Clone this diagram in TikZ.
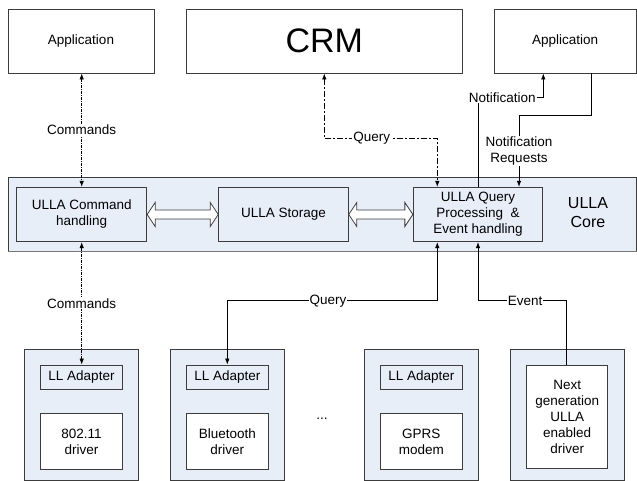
\documentclass[tikz,border=0pt]{standalone}
\usepackage{fontspec}
\setmainfont{Liberation Sans}
\usetikzlibrary{arrows.meta,calc}
\definecolor{pale}{RGB}{232,238,248}
\definecolor{edge}{RGB}{60,60,60}
\begin{document}
\begin{tikzpicture}[x=1pt,y=-1pt,
  txt/.style={font=\fontsize{13.5}{16}\selectfont, text=black},
  box/.style={txt, draw=edge, line width=0.9pt, inner sep=0pt, align=center, fill=white},
  bbox/.style={box, fill=pale},
  lbl/.style={txt, fill=white, inner sep=1pt, align=center},
  conn/.style={draw=black, line width=0.7pt, >={Latex[length=6pt,width=4.5pt]}},
  cmdline/.style={conn, dash pattern=on 3pt off 1pt on 1pt off 1pt},
  qline/.style={conn, dash pattern=on 6pt off 2pt on 2pt off 2pt},
  dblarrow/.style={draw=edge, line width=0.8pt, fill=white, line join=miter}
]
\useasboundingbox (0,0) rectangle (637,481);

% top boxes
\node[box, minimum width=146pt, minimum height=64pt] (app1) at (81,41) {Application};
\node[box, minimum width=276.7pt, minimum height=64pt, font=\fontsize{34}{36}\selectfont] (crm) at (324.3,41) {CRM};
\node[box, minimum width=141.7pt, minimum height=64pt] (app2) at (565.2,41) {Application};

% core band
\node[bbox, minimum width=627.7pt, minimum height=74pt] (core) at (322.2,214) {};
\draw[edge!70, line width=1.6pt] (core.south west) -- (core.south east);
\node[bbox, minimum width=130pt, minimum height=54.4pt] (cmd) at (81.7,214.5) {ULLA Command\\handling};
\node[bbox, minimum width=129.6pt, minimum height=54.4pt] (stor) at (283.5,214.5) {ULLA Storage};
\node[bbox, minimum width=129.4pt, minimum height=54.4pt] (qry) at (478,214.5) {ULLA Query\\Processing~ \&\\Event handling};
\node[txt, align=center, font=\fontsize{16}{19}\selectfont] (corelbl) at (588,213) {ULLA\\Core};

% bottom boxes
\node[bbox, minimum width=114pt, minimum height=131.5pt] (d1) at (81.3,414.75) {};
\node[bbox, minimum width=113.3pt, minimum height=131.5pt] (d2) at (227.35,414.75) {};
\node[bbox, minimum width=114pt, minimum height=131.5pt] (d3) at (421.3,414.75) {};
\node[bbox, minimum width=114pt, minimum height=131.5pt] (d4) at (567,414.75) {};

\node[bbox, minimum width=81.6pt, minimum height=24.3pt] (ll1) at (81.5,377.2) {LL Adapter};
\node[bbox, minimum width=81.6pt, minimum height=24.3pt] (ll2) at (227.3,377.2) {LL Adapter};
\node[bbox, minimum width=81.6pt, minimum height=24.3pt] (ll3) at (421.35,377.2) {LL Adapter};

\node[box, minimum width=81.6pt, minimum height=55.3pt] (drv1) at (81.5,441.35) {802.11\\driver};
\node[box, minimum width=81.6pt, minimum height=55.3pt] (drv2) at (227.3,441.35) {Bluetooth\\driver};
\node[box, minimum width=81.6pt, minimum height=55.3pt] (drv3) at (421.35,441.35) {GPRS\\modem};
\node[box, minimum width=81pt, minimum height=103pt] (next) at (567.2,416.5) {Next\\generation\\ULLA\\enabled\\driver};

\node[txt] (dots) at (322,419) {...};

% double arrows
\draw[dblarrow] (cmd.east) -- ++(8,-12) -- ++(0,7.5) -- ($(stor.west)+(-8,-4.5)$) -- ++(0,-7.5) -- (stor.west)
  -- ++(-8,12) -- ++(0,-7.5) -- ($(cmd.east)+(8,4.5)$) -- ++(0,7.5) -- cycle;
\draw[dblarrow] (stor.east) -- ++(8,-12) -- ++(0,7.5) -- ($(qry.west)+(-8,-4.5)$) -- ++(0,-7.5) -- (qry.west)
  -- ++(-8,12) -- ++(0,-7.5) -- ($(stor.east)+(8,4.5)$) -- ++(0,7.5) -- cycle;

% Commands
\draw[cmdline, <->] (app1.south -| cmd.north) -- node[lbl]{Commands} (cmd.north);
\draw[cmdline, <->] (cmd.south) -- node[lbl]{Commands} (cmd.south |- ll1.north);

% Query to CRM
\coordinate (qbend) at (437.3,138.3);
\draw[qline, <->] (crm.south) -- (crm.south |- qbend) -- node[lbl, pos=0.42]{Query} (qbend) -- (qbend |- qry.north);

% Notification
\coordinate (nbend) at (543.3,97.3);
\draw[conn, ->] (qry.north) -- (qry.north |- nbend) -- node[lbl, pos=0.37]{Notification} (nbend) -- (nbend |- app2.south);

% Notification Requests
\coordinate (rbend) at (519,115);
\draw[conn, ->] (app2.south -| 591.7,0) -- (591.7,115) -- (rbend) -- node[lbl]{Notification\\Requests} (rbend |- qry.north);

% Query to drivers
\coordinate (qdbend) at (437.3,300.7);
\draw[conn, <->] (qdbend |- qry.south) -- (qdbend) -- node[lbl, pos=0.52]{Query} (qdbend -| ll2.north) -- (ll2.north);

% Event
\coordinate (ebend) at (566.7,300.7);
\draw[conn, ->] (ebend |- next.north) -- (ebend) -- node[lbl, pos=0.47]{Event} (ebend -| qry.south) -- (qry.south);
\end{tikzpicture}
\end{document}
